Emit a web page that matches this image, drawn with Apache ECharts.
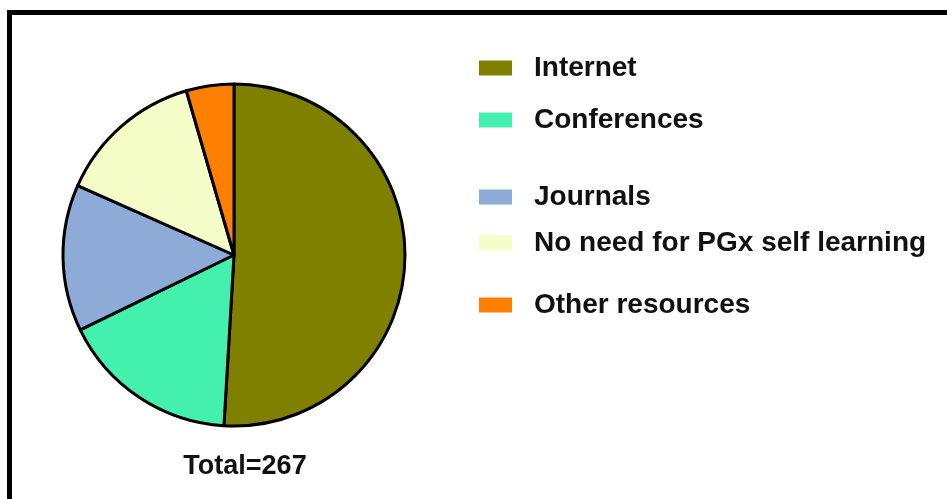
<!DOCTYPE html>
<html>
<head>
<meta charset="utf-8">
<script src="https://cdn.jsdelivr.net/npm/echarts@6/dist/echarts.min.js"></script>
<style>
  html, body { margin: 0; padding: 0; background: #fff; }
  #chart { width: 947px; height: 499px; }
</style>
</head>
<body>
<div id="chart"></div>
<script>
// Sources used for PGx self learning (n = 267)
const categories = ['Internet', 'Conferences', 'Journals', 'No need for PGx self learning', 'Other resources'];
const counts = [136, 45, 37, 37, 12];
const colors = ['#808000', '#44F0AE', '#8EAAD6', '#F5FDC8', '#FF8000'];
const totalLabel = 'Total=267';

// vertical centre of each legend row (uneven spacing)
const legendRowCenters = [66, 118, 195, 241, 303];

const chart = echarts.init(document.getElementById('chart'), null, { renderer: 'canvas' });

const legends = categories.map((name, i) => ({
  data: [name],
  orient: 'vertical',
  left: 479,
  top: legendRowCenters[i] - 14,
  padding: 0,
  itemWidth: 33,
  itemHeight: 15,
  icon: 'rect',
  selectedMode: false,
  itemStyle: { borderWidth: 0 },
  textStyle: {
    fontFamily: 'Liberation Sans, Arial, sans-serif',
    fontWeight: 'bold',
    fontSize: 28,
    lineHeight: 30,
    color: '#111',
    padding: [2, 0, 0, 17]
  }
}));

chart.setOption({
  animation: false,
  backgroundColor: '#fff',
  color: colors,
  title: {
    text: totalLabel,
    left: 245,
    top: 453,
    textAlign: 'center',
    padding: 0,
    textStyle: {
      fontFamily: 'Liberation Sans, Arial, sans-serif',
      fontWeight: 'bold',
      fontSize: 27,
      color: '#111'
    }
  },
  legend: legends,
  graphic: [{
    type: 'rect',
    shape: { x: 9.5, y: 12.5, width: 1000, height: 600 },
    style: { fill: 'none', stroke: '#000', lineWidth: 5 },
    silent: true
  }],
  series: [{
    type: 'pie',
    center: [234, 255],
    radius: 171,
    startAngle: 90,
    clockwise: true,
    label: { show: false },
    labelLine: { show: false },
    emphasis: { disabled: true },
    itemStyle: { borderColor: '#000', borderWidth: 3 },
    data: categories.map((name, i) => ({ name, value: counts[i] }))
  }]
});
</script>
</body>
</html>
